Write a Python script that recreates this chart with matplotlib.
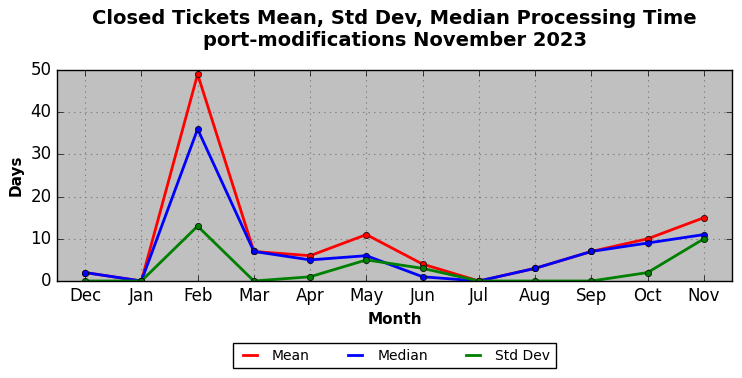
import numpy as np
import matplotlib
matplotlib.use('Agg')
import matplotlib.pyplot as plt

plt.style.use('classic')

# Monthly processing time stats (days)
months = ['Dec', 'Jan', 'Feb', 'Mar', 'Apr', 'May', 'Jun', 'Jul', 'Aug', 'Sep', 'Oct', 'Nov']
mean_days = [2, 0, 49, 7, 6, 11, 4, 0, 3, 7, 10, 15]
median_days = [2, 0, 36, 7, 5, 6, 1, 0, 3, 7, 9, 11]
std_days = [0, 0, 13, 0, 1, 5, 3, 0, 0, 0, 2, 10]

fig = plt.figure(figsize=(7.42, 3.78), dpi=100, facecolor='white')
ax = fig.add_axes([57 / 742, 1 - 281 / 378, 675 / 742, 211 / 378])
ax.set_facecolor('silver')
ax.set_axisbelow(True)

x = np.arange(len(months))
ax.plot(x, mean_days, color='red', lw=2, label='Mean')
ax.plot(x, median_days, color='blue', lw=2, label='Median')
ax.plot(x, std_days, color='green', lw=2, label='Std Dev')
# markers drawn separately so the legend shows plain lines
ax.plot(x, mean_days, 'o', color='red', ms=4.5, mec='black', mew=0.5)
ax.plot(x, median_days, 'o', color='blue', ms=4.5, mec='black', mew=0.5)
ax.plot(x, std_days, 'o', color='green', ms=4.5, mec='black', mew=0.5)

ax.set_xlim(-0.5, 11.5)
ax.set_ylim(0, 50)
ax.set_xticks(x)
ax.set_xticklabels(months)
ax.set_yticks([0, 10, 20, 30, 40, 50])
ax.tick_params(labelsize=12)
ax.grid(True, color='gray', linestyle=':', linewidth=0.8)

ax.set_xlabel('Month', fontsize=11, fontweight='bold')
ax.set_ylabel('Days', fontsize=11, fontweight='bold')
ax.set_title('Closed Tickets Mean, Std Dev, Median Processing Time\nport-modifications November 2023',
             fontsize=14, fontweight='bold', y=1.08)

ax.legend(loc='upper center', bbox_to_anchor=(0.5, -0.262), ncol=3, fontsize=10,
          handlelength=1.6, columnspacing=2.45, frameon=True, fancybox=False)

fig.savefig('out.png', dpi=100, facecolor='white')
